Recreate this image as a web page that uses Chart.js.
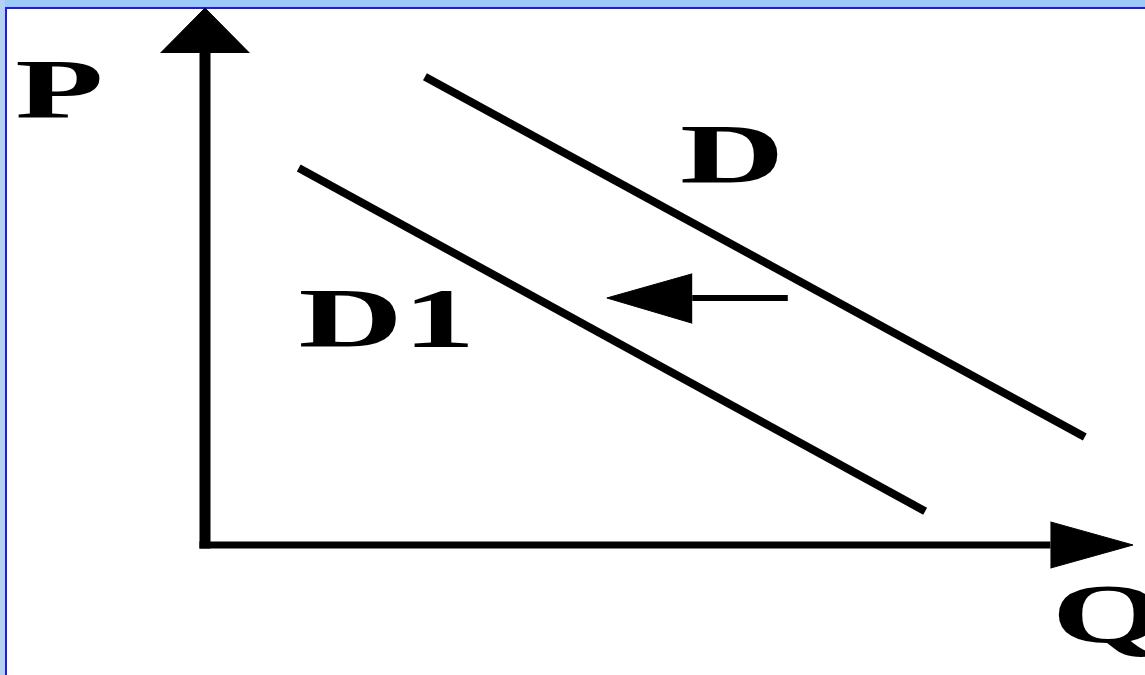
<!DOCTYPE html>
<html>
<head>
<meta charset="utf-8">
<script src="https://cdn.jsdelivr.net/npm/chart.js@4"></script>
<style>
  html, body { margin: 0; padding: 0; background: #ffffff; overflow: hidden; }
  #wrap { position: relative; width: 1145px; height: 675px; }
  .band { position: absolute; }
  #topBand { left: 0; top: 0; width: 1145px; height: 7px; background: #9dcbf8; }
  #topLine { left: 5px; top: 7px; width: 1140px; height: 2px; background: #1c1cf0; }
  #leftBand { left: 0; top: 0; width: 5px; height: 675px; background: #b4d2f0; }
  #leftLine { left: 5px; top: 7px; width: 2px; height: 668px; background: #1c1cf0; }
  canvas { position: absolute; left: 0; top: 0; }
</style>
</head>
<body>
<div id="wrap">
  <div class="band" id="topBand"></div>
  <div class="band" id="leftBand"></div>
  <div class="band" id="topLine"></div>
  <div class="band" id="leftLine"></div>
  <canvas id="demandShift" width="1145" height="675"></canvas>
</div>
<script>
   // Demand shift diagram: Q on x, P on y (0..100 units)

   // original demand curve D
   const demandQ = [23.7, 94.8];
   const demandP = [87.2, 20.1];
   // shifted demand curve D1
   const demand1Q = [10.1, 77.6];
   const demand1P = [70.2, 6.3];

   // axes (shaft + arrow head)
   const yAxisQ = [0, 0];
   const yAxisP = [-0.65, 91.6];
   const yHeadQ = [-4.8, 0, 4.8];
   const yHeadP = [91.6, 100, 91.6];
   const xAxisQ = [-0.6, 91.1];
   const xAxisP = [0, 0];
   const xHeadQ = [91.1, 100, 91.1];
   const xHeadP = [4.3, 0, -4.3];

   // shift arrow (leftwards)
   const shiftQ = [62.8, 52.5];
   const shiftP = [46.0, 46.0];
   const shiftHeadQ = [52.5, 43.3, 52.5];
   const shiftHeadP = [50.5, 46.0, 41.3];

   // text labels
   const labelText = ['P', 'D', 'D1', 'Q'];
   const labelQ = [-15.7, 56.8, 19.6, 97.3];
   const labelP = [79.5, 67.4, 36.9, -18.25];

   const toPoints = (qs, ps) => qs.map((q, i) => ({ x: q, y: ps[i] }));

   const lineSet = (qs, ps, width) => ({
       data: toPoints(qs, ps),
       showLine: true,
       borderColor: '#000000',
       borderWidth: width,
       pointRadius: 0,
       fill: false
   });

   const headSet = (qs, ps) => ({
       data: toPoints(qs, ps),
       showLine: true,
       borderColor: '#000000',
       backgroundColor: '#000000',
       borderWidth: 1,
       pointRadius: 0,
       fill: 'shape'
   });

   // labels drawn with the same scales, stretched sideways like the original
   const labelPlugin = {
       id: 'curveLabels',
       afterDatasetsDraw(chart) {
           const ctx = chart.ctx;
           const sx = 1.72;
           ctx.save();
           ctx.fillStyle = '#000000';
           ctx.font = 'bold 84px "Liberation Serif", "Times New Roman", serif';
           ctx.textAlign = 'center';
           ctx.textBaseline = 'alphabetic';
           labelText.forEach((t, i) => {
               const px = chart.scales.x.getPixelForValue(labelQ[i]);
               const py = chart.scales.y.getPixelForValue(labelP[i]);
               ctx.save();
               ctx.translate(px, py);
               ctx.scale(sx, 1);
               ctx.fillText(t, 0, 0);
               ctx.restore();
           });
           ctx.restore();
       }
   };

   const demandCtx = document.getElementById('demandShift').getContext('2d');
   new Chart(demandCtx, {
       type: 'scatter',
       data: {
           datasets: [
               lineSet(yAxisQ, yAxisP, 11),
               headSet(yHeadQ, yHeadP),
               lineSet(xAxisQ, xAxisP, 7),
               headSet(xHeadQ, xHeadP),
               lineSet(demandQ, demandP, 8),
               lineSet(demand1Q, demand1P, 8),
               lineSet(shiftQ, shiftP, 6),
               headSet(shiftHeadQ, shiftHeadP)
           ]
       },
       options: {
           responsive: false,
           animation: false,
           layout: { padding: 0 },
           plugins: {
               legend: { display: false },
               tooltip: { enabled: false },
               title: { display: false }
           },
           scales: {
               x: { type: 'linear', display: false, min: -22.09, max: 101.29 },
               y: { type: 'linear', display: false, min: -24.21, max: 101.49 }
           }
       },
       plugins: [labelPlugin]
   });
</script>
</body>
</html>
